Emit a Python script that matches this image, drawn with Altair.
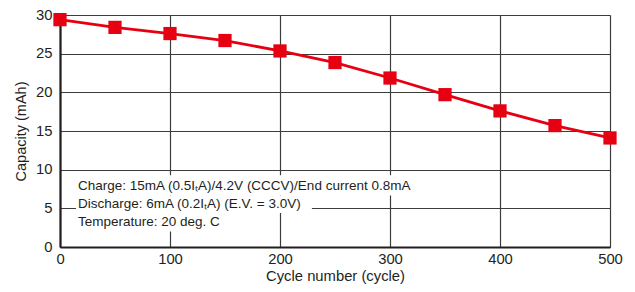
import altair as alt
import pandas as pd

cycles = [0, 50, 100, 150, 200, 250, 300, 350, 400, 450, 500]
capacity = [29.4, 28.4, 27.6, 26.7, 25.35, 23.85, 21.85, 19.7, 17.6, 15.7, 14.1]

notes = [
    "Charge: 15mA (0.5IₜA)/4.2V (CCCV)/End current 0.8mA",
    "Discharge: 6mA (0.2IₜA) (E.V. = 3.0V)",
    "Temperature: 20 deg. C",
]
note_x = [16.4, 16.4, 16.4]
note_y = [7.95, 5.5, 3.2]
box_x1 = [14.5, 14.5, 14.5]
box_x2 = [330, 229, 153]
box_y1 = [9.28, 6.65, 4.39]
box_y2 = [6.65, 4.39, 2.0]

df = pd.DataFrame({"cycle": cycles, "cap": capacity})
ndf = pd.DataFrame({"t": notes, "x": note_x, "y": note_y,
                    "x1": box_x1, "x2": box_x2, "y1": box_y1, "y2": box_y2})

FONT = "Liberation Sans"
TXT = "#231f20"
RED = "#e60012"

xs = alt.Scale(domain=[0, 500], nice=False, zero=False)
ys = alt.Scale(domain=[0, 30], nice=False)

xaxis = alt.Axis(values=[0, 100, 200, 300, 400, 500], title="Cycle number (cycle)",
                 grid=True, gridColor="#3c3c3c", gridWidth=1.2, gridOpacity=1,
                 domainColor=TXT, domainWidth=2.2, ticks=False, labelPadding=4,
                 labelFontSize=14.8, labelColor=TXT, labelFont=FONT,
                 labelOverlap=False, labelFlush=False,
                 titleFontSize=14.8, titleFont=FONT, titleColor=TXT,
                 titleFontWeight="normal", titlePadding=3)
yaxis = alt.Axis(values=[0, 5, 10, 15, 20, 25, 30], title="Capacity (mAh)",
                 grid=True, gridColor="#3c3c3c", gridWidth=1.2, gridOpacity=1,
                 domainColor=TXT, domainWidth=2.2, ticks=False, labelPadding=8,
                 labelFontSize=14.8, labelColor=TXT, labelFont=FONT,
                 labelOverlap=False, labelFlush=False,
                 titleFontSize=14.5, titleFont=FONT, titleColor=TXT,
                 titleFontWeight="normal", titlePadding=7)

boxes = alt.Chart(ndf).mark_rect(color="white").encode(
    x=alt.X("x1:Q", scale=xs, axis=xaxis),
    x2="x2:Q",
    y=alt.Y("y1:Q", scale=ys, axis=yaxis),
    y2="y2:Q",
)

texts = alt.Chart(ndf).mark_text(align="left", baseline="middle", font=FONT,
                                 fontSize=13.5, color=TXT).encode(
    x=alt.X("x:Q", scale=xs, axis=xaxis),
    y=alt.Y("y:Q", scale=ys, axis=yaxis),
    text="t:N")

base = alt.Chart(df)
line = base.mark_line(color=RED, strokeWidth=2.8, clip=False).encode(
    x=alt.X("cycle:Q", scale=xs, axis=xaxis),
    y=alt.Y("cap:Q", scale=ys, axis=yaxis))
pts = base.mark_square(color=RED, size=175, opacity=1, clip=False).encode(
    x=alt.X("cycle:Q", scale=xs, axis=xaxis),
    y=alt.Y("cap:Q", scale=ys, axis=yaxis))

chart = alt.layer(boxes, texts, line, pts).properties(
    width=550, height=232,
    autosize=alt.AutoSizeParams(type="none"),
    padding={"left": 52, "top": 7, "right": 17, "bottom": 37},
).configure_view(stroke=TXT, strokeWidth=1.6).configure(background="white")

chart.save("out.html", embed_options={"renderer": "svg", "actions": False})
